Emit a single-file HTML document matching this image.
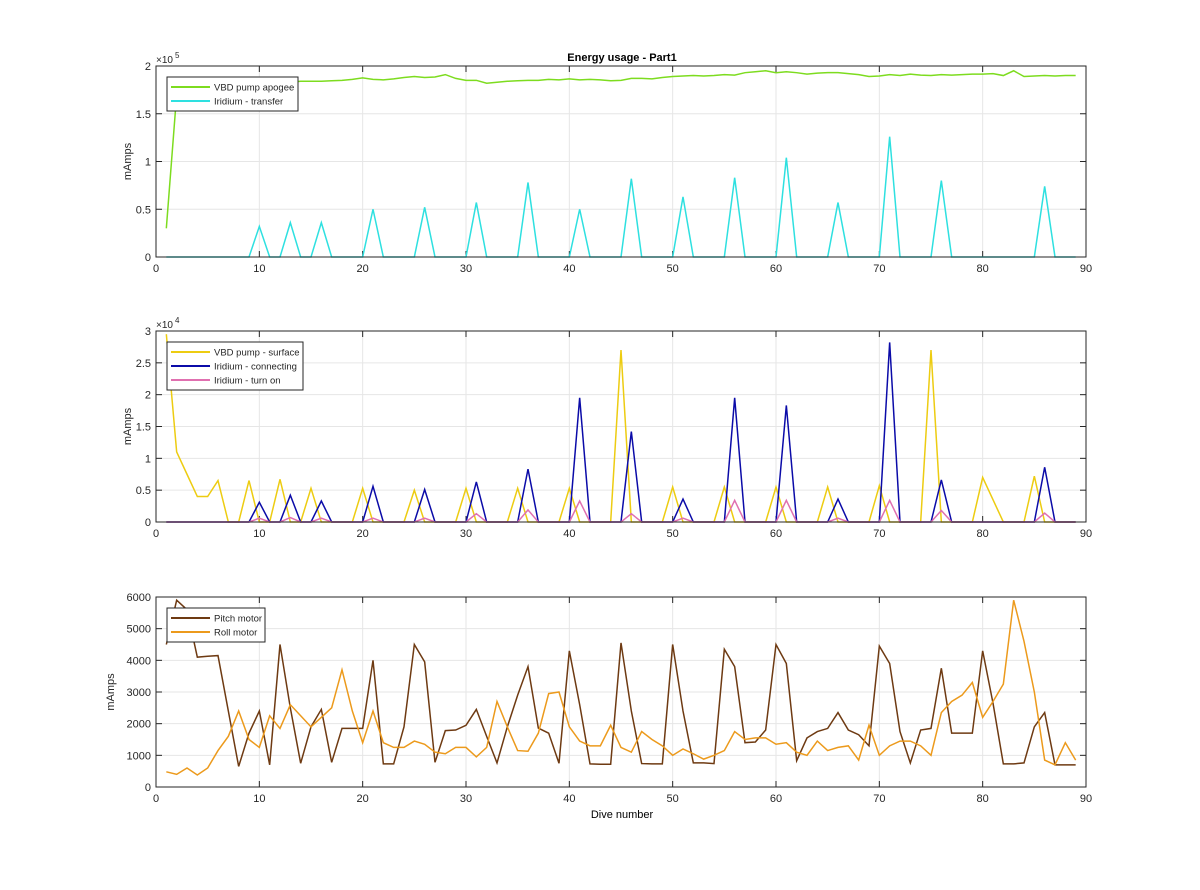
<!DOCTYPE html>
<html><head><meta charset="utf-8"><style>
body{margin:0;background:#fff;width:1200px;height:885px;overflow:hidden}
svg text{font-family:"Liberation Sans",sans-serif;}
</style></head><body>
<svg id="fig" width="1200" height="885" xmlns="http://www.w3.org/2000/svg">
<text x="622" y="61" font-size="11" font-weight="bold" text-anchor="middle">Energy usage - Part1</text>
<text x="622" y="818" font-size="11" text-anchor="middle">Dive number</text>
</svg>
<script>
const dives = Array.from({length:89},(_,i)=>i+1);
const vbdApogee=[30000,170000,180000,181000,181500,182000,182500,182000,182500,183000,183000,182000,183000,184000,184000,184000,184500,185000,186000,187500,186000,185500,186500,188000,189000,188000,188500,191000,187000,185000,185000,182000,183000,184000,184500,185000,185000,186000,185500,186500,185500,186000,185500,184500,185000,187000,187000,186500,188000,189000,189500,190000,189500,190000,191000,190500,193000,194000,195000,193000,194000,193000,191500,192500,193000,193000,192000,191000,189000,189500,191000,190000,191500,190500,190000,191000,190500,191000,191500,191500,192000,190000,195000,189000,189500,190000,189500,190000,190000];
const iridiumTransfer=[0,0,0,0,0,0,0,0,0,32000,0,0,36000,0,0,36000,0,0,0,0,50000,0,0,0,0,52000,0,0,0,0,57000,0,0,0,0,78000,0,0,0,0,50000,0,0,0,0,82000,0,0,0,0,63000,0,0,0,0,83000,0,0,0,0,104000,0,0,0,0,57000,0,0,0,0,126000,0,0,0,0,80000,0,0,0,0,0,0,0,0,0,74000,0,0,0];
const vbdSurface=[29500,11000,7500,4000,4000,6500,0,0,6500,0,0,6700,0,0,5300,0,0,0,0,5300,0,0,0,0,5000,0,0,0,0,5300,0,0,0,0,5300,0,0,0,0,5300,0,0,0,0,27000,0,0,0,0,5500,0,0,0,0,5500,0,0,0,0,5500,0,0,0,0,5500,0,0,0,0,5700,0,0,0,0,27000,0,0,0,0,7000,3500,0,0,0,7200,0,0,0,0];
const iridiumConnecting=[0,0,0,0,0,0,0,0,0,3100,0,0,4200,0,0,3300,0,0,0,0,5600,0,0,0,0,5100,0,0,0,0,6300,0,0,0,0,8300,0,0,0,0,19500,0,0,0,0,14200,0,0,0,0,3600,0,0,0,0,19500,0,0,0,0,18300,0,0,0,0,3600,0,0,0,0,28200,0,0,0,0,6600,0,0,0,0,0,0,0,0,0,8600,0,0,0];
const iridiumTurnOn=[0,0,0,0,0,0,0,0,0,600,0,0,700,0,0,600,0,0,0,0,600,0,0,0,0,600,0,0,0,0,1300,0,0,0,0,1900,0,0,0,0,3300,0,0,0,0,1300,0,0,0,0,600,0,0,0,0,3400,0,0,0,0,3400,0,0,0,0,600,0,0,0,0,3400,0,0,0,0,1800,0,0,0,0,0,0,0,0,0,1400,0,0,0];
const pitchMotor=[4500,5900,5600,4100,4130,4150,2400,650,1700,2400,700,4500,2500,750,1900,2450,780,1850,1850,1850,4000,730,730,1900,4500,3950,780,1780,1800,1950,2450,1600,760,1900,2900,3800,1860,1700,750,4300,2600,730,720,720,4550,2400,740,730,730,4500,2400,760,760,740,4350,3800,1400,1420,1800,4500,3900,830,1550,1750,1850,2350,1800,1650,1300,4450,3900,1750,760,1800,1850,3750,1700,1700,1700,4300,2650,730,730,760,1900,2350,700,700,700];
const rollMotor=[480,400,600,380,600,1150,1600,2400,1500,1250,2250,1850,2600,2250,1900,2200,2500,3700,2400,1400,2400,1400,1250,1250,1450,1350,1100,1050,1250,1250,950,1250,2700,1900,1150,1130,1700,2950,3000,1900,1450,1300,1300,1950,1250,1100,1750,1500,1300,1000,1200,1050,880,1000,1150,1750,1500,1550,1550,1350,1400,1100,1000,1450,1150,1250,1300,850,1950,1000,1300,1450,1450,1300,1000,2350,2700,2900,3300,2200,2700,3250,5900,4600,3000,850,700,1400,850];
const xTicks=[0,10,20,30,40,50,60,70,80,90];
const yTicks1=[0,0.5,1,1.5,2], yTicks2=[0,0.5,1,1.5,2,2.5,3], yTicks3=[0,1000,2000,3000,4000,5000,6000];

const NS='http://www.w3.org/2000/svg';
const svg=document.getElementById('fig');
function mk(tag,attrs,parent){const e=document.createElementNS(NS,tag);for(const k in attrs)e.setAttribute(k,attrs[k]);(parent||svg).appendChild(e);return e;}
const X0=156,X1=1086;
const xs=v=>X0+(v-0)/90*(X1-X0);

function panel(name,top,bot,ymax,ticks,tickScale,expo,series,legW,ylx){
  const g=mk('g',{});
  
  
  const ys=v=>bot-(v/ymax)*(bot-top);
  mk('rect',{x:X0,y:top,width:X1-X0,height:bot-top,fill:'#fff'},g);
  xTicks.forEach(t=>{
    mk('line',{x1:xs(t),x2:xs(t),y1:top,y2:bot,stroke:'#e6e6e6','stroke-width':1},g);
  });
  ticks.forEach(t=>{
    const y=ys(t*tickScale);
    mk('line',{x1:X0,x2:X1,y1:y,y2:y,stroke:'#e6e6e6','stroke-width':1},g);
    const tl=mk('text',{x:X0-5,y:y+4,'font-size':11,'text-anchor':'end',fill:'#262626'},g);
    
    
    tl.textContent=String(t);
    mk('line',{x1:X0,x2:X0+6,y1:y,y2:y,stroke:'#262626'},g);
    mk('line',{x1:X1-6,x2:X1,y1:y,y2:y,stroke:'#262626'},g);
  });
  xTicks.forEach(t=>{
    const x=xs(t);
    mk('line',{x1:x,x2:x,y1:bot,y2:bot-6,stroke:'#262626'},g);
    mk('line',{x1:x,x2:x,y1:top,y2:top+6,stroke:'#262626'},g);
    const tl=mk('text',{x:x,y:bot+15,'font-size':11,'text-anchor':'middle',fill:'#262626'},g);
    
    
    tl.textContent=String(t);
  });
  series.forEach(s=>{
    const p=mk('polyline',{points:dives.map((d,i)=>xs(d)+','+ys(s.data[i])).join(' '),fill:'none',stroke:s.color,'stroke-width':1.5},g);
    
    
  });
  mk('rect',{x:X0,y:top,width:X1-X0,height:bot-top,fill:'none',stroke:'#262626','stroke-width':1},g);
  const yl=mk('text',{x:0,y:0,'font-size':11,'text-anchor':'middle',transform:`translate(${ylx},${(top+bot)/2}) rotate(-90)`,fill:'#262626'},g);
  
  
  yl.textContent='mAmps';
  if(expo){
    const ex=mk('text',{x:X0,y:top-3,'font-size':10,fill:'#262626'},g);
    
    
    ex.textContent='×10';
    const sup=mk('text',{x:X0+19,y:top-8,'font-size':8,fill:'#262626'},g);
    
    
    sup.textContent=expo;
  }
  const lg=mk('g',{},g);
  
  
  const lh=series.length*14+6;
  mk('rect',{x:167,y:top+11,width:legW,height:lh,fill:'#fff',stroke:'#262626','stroke-width':1},lg);
  series.forEach((s,i)=>{
    const yy=top+21+i*14;
    const ln=mk('line',{x1:171,x2:210,y1:yy,y2:yy,stroke:s.color,'stroke-width':2},lg);
    
    
    const t=mk('text',{x:214,y:yy+3.5,'font-size':9.5,fill:'#262626'},lg);
    
    
    t.textContent=s.label;
  });
}
panel('panel-vbd-iridium-transfer',66,257,200000,yTicks1,100000,'5',[
  {data:vbdApogee,color:'#7ddc1f',label:'VBD pump apogee',name:'line-vbd-pump-apogee'},
  {data:iridiumTransfer,color:'#2ee0e0',label:'Iridium - transfer',name:'line-iridium-transfer'}],131,131);
panel('panel-vbd-surface-iridium',331,522,30000,yTicks2,10000,'4',[
  {data:vbdSurface,color:'#edcc11',label:'VBD pump - surface',name:'line-vbd-pump-surface'},
  {data:iridiumConnecting,color:'#0b0ba8',label:'Iridium - connecting',name:'line-iridium-connecting'},
  {data:iridiumTurnOn,color:'#e070b0',label:'Iridium - turn on',name:'line-iridium-turn-on'}],136,131);
panel('panel-motors',597,787,6000,yTicks3,1,null,[
  {data:pitchMotor,color:'#6e3a12',label:'Pitch motor',name:'line-pitch-motor'},
  {data:rollMotor,color:'#ec9a1c',label:'Roll motor',name:'line-roll-motor'}],98,114);
</script>
</body></html>
